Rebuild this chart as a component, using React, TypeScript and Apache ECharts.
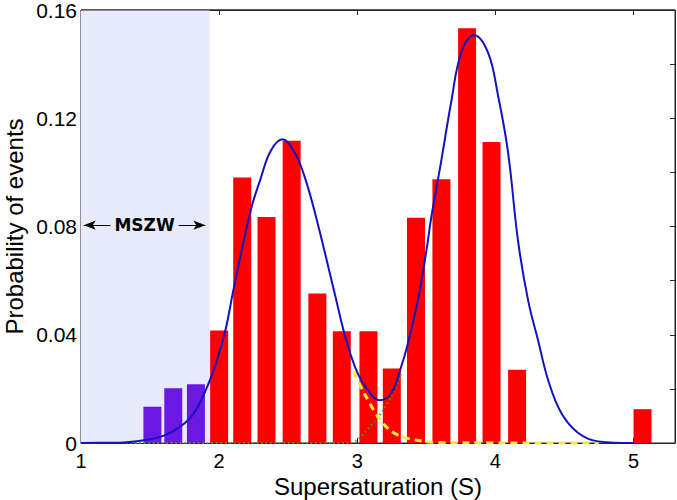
import React, { useEffect, useRef } from "react";
import * as echarts from "echarts";

// Histogram bins: supersaturation (S) centres and probability of events
const binS = [1.517, 1.668, 1.832, 2.0, 2.167, 2.343, 2.525, 2.711, 2.888, 3.081, 3.25, 3.425, 3.609, 3.795, 3.972, 4.157, 5.065];
const binProb = [0.0134, 0.0202, 0.0217, 0.0416, 0.0981, 0.0835, 0.1117, 0.0552, 0.0413, 0.0413, 0.0275, 0.0832, 0.0975, 0.1533, 0.1112, 0.0271, 0.0125];

// MSZW region
const mszwStart = 1.0;
const mszwEnd = 1.932;

// Bimodal fit (blue)
const fitS = [1.0, 1.2, 1.309, 1.479, 1.6, 1.72, 1.817, 1.914, 1.987, 2.047, 2.107, 2.229, 2.301, 2.374, 2.459, 2.543, 2.615, 2.7, 2.833, 2.92, 3.003, 3.075, 3.16, 3.245, 3.317, 3.366, 3.438, 3.5, 3.535, 3.607, 3.68, 3.753, 3.845, 3.946, 4.019, 4.091, 4.164, 4.237, 4.309, 4.382, 4.478, 4.6, 4.745, 5.0];
const fitP = [0, 0.0001, 0.0002, 0.0012, 0.0027, 0.0061, 0.011, 0.0208, 0.031, 0.042, 0.0575, 0.086, 0.0978, 0.108, 0.1122, 0.1076, 0.099, 0.0838, 0.056, 0.038, 0.0257, 0.0196, 0.0158, 0.0183, 0.0281, 0.0367, 0.0526, 0.0709, 0.0832, 0.104, 0.126, 0.1443, 0.1507, 0.1443, 0.1284, 0.1076, 0.0746, 0.0526, 0.0379, 0.0232, 0.011, 0.0037, 0.0006, 0];

// First component tail (yellow dashed)
const comp1S = [2.974, 3.051, 3.148, 3.232, 3.317, 3.414, 3.511, 3.7, 4.75];
const comp1P = [0.0263, 0.0183, 0.0098, 0.0049, 0.0024, 0.0012, 0.0004, 0.0001, 0];

// Second component rise (green dotted)
const comp2S = [1.0, 2.95, 3.003, 3.051, 3.123, 3.196, 3.245, 3.293, 3.317];
const comp2P = [0, 0, 0.0012, 0.0037, 0.0079, 0.0128, 0.0171, 0.0226, 0.0257];

const xTicks = [1, 2, 3, 4, 5];
const yLabelled = [0, 0.04, 0.08, 0.12, 0.16];
const yMax = 0.16;
const xMin = 1;
const xMax = 5.3;

const FONT = "Liberation Sans, Arial, Helvetica, sans-serif";

const GRID = { left: 81, right: 2, top: 10, bottom: 57 };
const W = 677;

export default function App() {
  const ref = useRef<HTMLDivElement>(null);

  useEffect(() => {
    if (!ref.current) return;
    const chart = echarts.init(ref.current, undefined, { renderer: "svg" });

    const zip = (a: number[], b: number[]) => a.map((v, i) => [v, b[i]]);

    const barData = binS.map((s, i) => ({
      value: [s, binProb[i]],
      itemStyle: { color: s < mszwEnd ? "#6a18e4" : "#ff0000" },
    }));

    const axisColor = "#262626";
    const baseX = {
      type: "value" as const,
      show: true,
      gridIndex: 0,
      min: xMin,
      max: xMax,
      interval: 1,
      splitLine: { show: false },
      axisLine: { show: true, onZero: false, lineStyle: { color: axisColor, width: 1 } },
      axisTick: { show: true, inside: true, length: 5, lineStyle: { color: axisColor } },
    };
    const baseY = {
      type: "value" as const,
      show: true,
      gridIndex: 0,
      min: 0,
      max: yMax,
      interval: 0.02,
      splitLine: { show: false },
      axisLine: { show: true, onZero: false, lineStyle: { color: axisColor, width: 1 } },
      axisTick: { show: true, inside: true, length: 5, lineStyle: { color: axisColor } },
    };

    chart.setOption({
      animation: false,
      backgroundColor: "#ffffff",
      grid: {
        ...GRID,
        containLabel: false,
        outerBoundsMode: "none",
        show: true,
        borderWidth: 1,
        borderColor: axisColor,
        backgroundColor: "transparent",
      },
      graphic: [
        {
          type: "rect",
          z: 100,
          silent: true,
          shape: { x: GRID.left, y: GRID.top - 0.5, width: W - GRID.left - GRID.right, height: 1 },
          style: { fill: axisColor },
        },
      ],
      xAxis: [
        {
          ...baseX,
          position: "bottom",
          name: "Supersaturation (S)",
          nameLocation: "middle",
          nameGap: 31,
          nameMoveOverlap: false,
          nameTextStyle: { fontSize: 24, lineHeight: 24, color: "#000", fontFamily: FONT },
          axisLabel: {
            show: true,
            fontSize: 20,
            lineHeight: 14,
            color: "#000",
            fontFamily: FONT,
            margin: 11,
            showMaxLabel: false,
            formatter: (v: number) => (xTicks.includes(Math.round(v * 1000) / 1000) ? String(v) : ""),
          },
        },
        { ...baseX, position: "top", axisLabel: { show: false } },
      ],
      yAxis: [
        {
          ...baseY,
          position: "left",
          name: "Probability of events",
          nameLocation: "middle",
          nameGap: 55,
          nameMoveOverlap: false,
          nameTextStyle: { fontSize: 24, color: "#000", fontFamily: FONT },
          axisLabel: {
            show: true,
            fontSize: 21,
            lineHeight: 18,
            color: "#000",
            fontFamily: FONT,
            margin: 4,
            formatter: (v: number) => {
              const r = Math.round(v * 100) / 100;
              const hit = yLabelled.find((t) => Math.abs(t - r) < 1e-9);
              if (hit === undefined) return "";
              return hit === 0 ? "0" : hit.toFixed(2);
            },
          },
        },
        { ...baseY, position: "right", axisLabel: { show: false } },
      ],
      series: [
        {
          type: "bar",
          xAxisIndex: 0,
          yAxisIndex: 0,
          barWidth: 18,
          data: barData,
          z: 2,
          markArea: {
            silent: true,
            itemStyle: { color: "#e7ebfb" },
            data: [[{ xAxis: mszwStart }, { xAxis: mszwEnd }]],
          },
          markLine: {
            silent: true,
            symbol: ["arrow", "arrow"],
            symbolSize: [7, 12],
            lineStyle: { color: "#000", width: 1, type: "solid" },
            label: {
              show: true,
              position: "insideMiddle",
              formatter: "MSZW",
              fontFamily: "DejaVu Sans, sans-serif",
              fontWeight: "bold",
              fontSize: 17,
              color: "#000",
              backgroundColor: "#e7ebfb",
              padding: [0, 4],
            },
            data: [[{ coord: [1.02, 0.0805] }, { coord: [1.9, 0.0805] }]],
          },
        },
        {
          type: "line",
          data: zip(comp2S, comp2P),
          showSymbol: false,
          smooth: 0.3,
          lineStyle: { color: "#3f9a2a", width: 2, type: [1.5, 3] },
          z: 3,
        },
        {
          type: "line",
          data: zip(comp1S, comp1P),
          showSymbol: false,
          smooth: 0.3,
          lineStyle: { color: "#f4ea3a", width: 3, type: [7, 5] },
          z: 4,
        },
        {
          type: "line",
          data: zip(fitS, fitP),
          showSymbol: false,
          smooth: 0.4,
          lineStyle: { color: "#1212bf", width: 2 },
          z: 5,
        },
      ],
    });

    return () => chart.dispose();
  }, []);

  return (
    <div
      ref={ref}
      style={{ position: "fixed", left: 0, top: 0, width: 677, height: 500 }}
    />
  );
}
